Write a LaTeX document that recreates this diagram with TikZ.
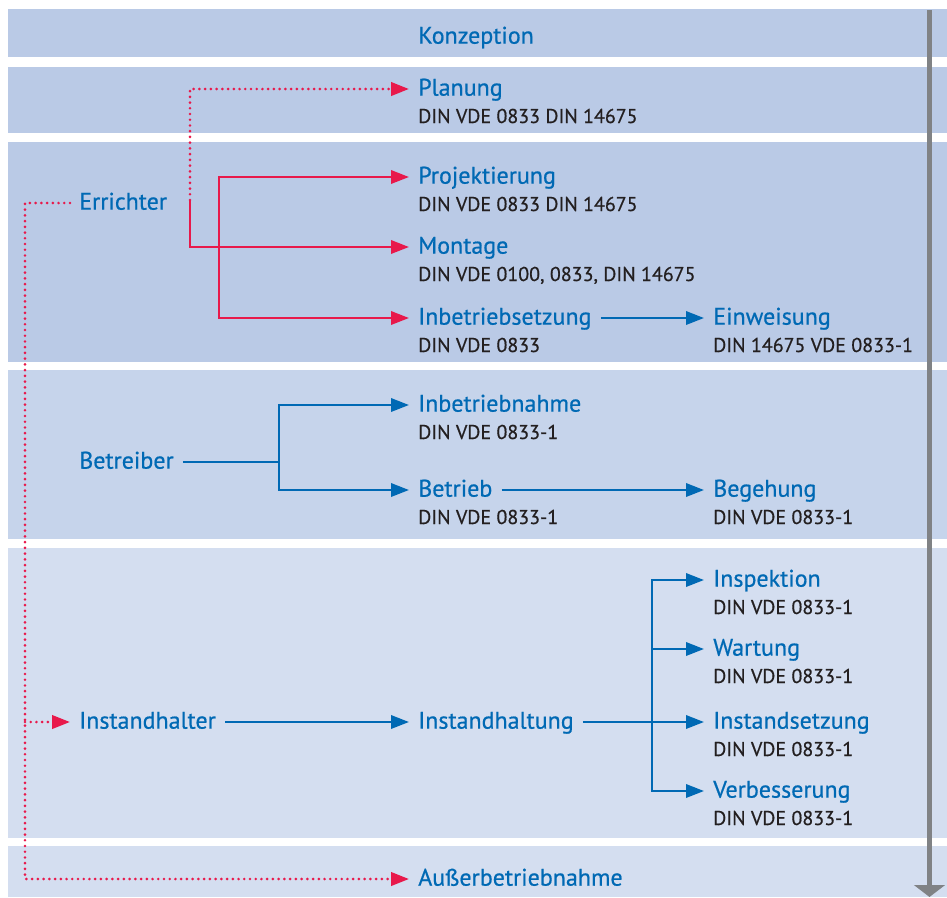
\documentclass[tikz,border=0pt]{standalone}
\usepackage{fontspec}
\setmainfont{PT Sans}
\newfontfamily\flowfont[RawFeature={embolden=0.6}]{PT Sans}
\usetikzlibrary{arrows.meta,positioning}
\definecolor{flowblue}{HTML}{0069B4}
\definecolor{flowred}{HTML}{E8194B}
\definecolor{flowgray}{HTML}{808285}
\definecolor{subink}{HTML}{231F20}
\definecolor{bandA}{HTML}{BACAE6}
\definecolor{bandB}{HTML}{C6D4EB}
\definecolor{bandC}{HTML}{D4DEF0}
\tikzset{
  head/.style={anchor=west, text=flowblue, font=\flowfont\fontsize{18}{18}\selectfont,
    inner xsep=6.75pt, inner ysep=0pt, text height=12pt, text depth=2pt},
  sub/.style={anchor=base west, text=subink, font=\flowfont\fontsize{15}{15}\selectfont, inner sep=0pt},
  redline/.style={flowred, line width=1.8pt},
  reddot/.style={flowred, line width=2.2pt, line cap=round, dash pattern=on 0pt off 4.3pt},
  blueline/.style={flowblue, line width=1.8pt},
}
\newcommand{\flowstage}[5]{%
  \node[head] (#1) at ({#2-9},#3) {#4};
  \node[sub] (#1-sub) at (#2,{#3+34}) {#5};
}

\begin{document}
\begin{tikzpicture}[x=0.75pt, y=-0.75pt, >={Triangle[length=13.5pt,width=10pt]}]
  \useasboundingbox (0,0) rectangle (947,897);

  % bands
  \fill[bandA] (8,9) rectangle (947,57);
  \fill[bandA] (8,67) rectangle (947,133);
  \fill[bandA] (8,142) rectangle (947,362);
  \fill[bandB] (8,370) rectangle (947,539);
  \fill[bandC] (8,548) rectangle (947,838);
  \fill[bandC] (8,846) rectangle (947,897);

  % time axis
  \draw[flowgray, line width=3.75pt, -{Triangle[length=9pt,width=23pt]}] (929.5,10) -- (929.5,897);

  % roles
  \node[head] (errichter) at (70,203) {Errichter};
  \node[head] (betreiber) at (70,462) {Betreiber};
  \node[head] (instandhalter) at (70,722) {Instandhalter};

  % stages
  \node[head] (konzeption) at (409,37) {Konzeption};
  \flowstage{planung}{418}{89}{Planung}{DIN VDE 0833 DIN 14675}
  \flowstage{projektierung}{418}{177}{Projektierung}{DIN VDE 0833 DIN 14675}
  \flowstage{montage}{418}{247}{Montage}{DIN VDE 0100, 0833, DIN 14675}
  \flowstage{inbetriebsetzung}{418}{318}{Inbetriebsetzung}{DIN VDE 0833}
  \flowstage{einweisung}{713}{318}{Einweisung}{DIN 14675 VDE 0833-1}
  \flowstage{inbetriebnahme}{418}{405}{Inbetriebnahme}{DIN VDE 0833-1}
  \flowstage{betrieb}{418}{490}{Betrieb}{DIN VDE 0833-1}
  \flowstage{begehung}{713}{490}{Begehung}{DIN VDE 0833-1}
  \node[head] (instandhaltung) at (409,722) {Instandhaltung};
  \flowstage{inspektion}{713}{580}{Inspektion}{DIN VDE 0833-1}
  \flowstage{wartung}{713}{649}{Wartung}{DIN VDE 0833-1}
  \flowstage{instandsetzung}{713}{722}{Instandsetzung}{DIN VDE 0833-1}
  \flowstage{verbesserung}{713}{791}{Verbesserung}{DIN VDE 0833-1}
  \node[head] (ausserbetrieb) at (409,879) {Außerbetriebnahme};

  % branch points
  \coordinate (esplit) at (190,200);
  \coordinate (pfork) at (219,250);
  \coordinate (bfork) at (279,462);
  \coordinate (ifork) at (652,722);
  \coordinate (lrail) at (25,879);

  % red: Errichter
  \draw[reddot,->] (esplit) |- (planung.west);
  \draw[redline,->] (esplit) |- (montage.west);
  \draw[redline,<->] (projektierung.west) -| (pfork) |- (inbetriebsetzung.west);
  \draw[reddot,->] (errichter.west) -| (lrail) -- (ausserbetrieb.west);
  \draw[reddot,->] (lrail |- instandhalter.west) -- (instandhalter.west);

  % blue: Betreiber / Instandhalter
  \draw[blueline,->] (inbetriebsetzung.east) -- (einweisung.west);
  \draw[blueline] (betreiber.east) -- (bfork);
  \draw[blueline,<->] (inbetriebnahme.west) -| (bfork) |- (betrieb.west);
  \draw[blueline,->] (betrieb.east) -- (begehung.west);
  \draw[blueline,->] (instandhalter.east) -- (instandhaltung.west);
  \draw[blueline,->] (instandhaltung.east) -- (instandsetzung.west);
  \draw[blueline,<->] (inspektion.west) -| (ifork) |- (verbesserung.west);
  \draw[blueline,->] (ifork |- wartung.west) -- (wartung.west);

\end{tikzpicture}
\end{document}
